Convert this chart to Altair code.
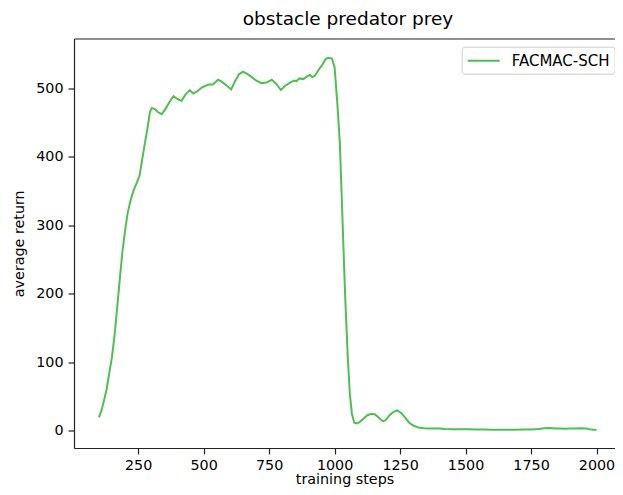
import altair as alt
import pandas as pd

steps = [100, 110, 120, 130, 140, 150, 160, 170, 180, 190, 200, 210, 220, 232, 245, 255, 265, 275, 285, 295,
         302, 315, 325, 340, 355, 370, 385, 400, 415, 430, 447, 460, 475, 490, 505, 520, 535, 555, 570, 590,
         605, 620, 635, 650, 665, 680, 700, 720, 740, 760, 775, 795, 810, 827, 845, 855, 865, 880, 895, 905,
         915, 925, 940, 955, 965, 975, 990, 1000, 1010, 1020, 1030, 1040, 1050, 1058, 1066, 1075, 1085, 1095, 1110, 1125,
         1140, 1155, 1170, 1185, 1195, 1210, 1225, 1240, 1255, 1270, 1285, 1300, 1320, 1340, 1360, 1380, 1400, 1420, 1450, 1480,
         1510, 1540, 1570, 1600, 1630, 1660, 1690, 1720, 1750, 1780, 1800, 1820, 1840, 1860, 1880, 1900, 1920, 1940, 1960, 1980,
         2000]
returns = [20, 30, 45, 62, 85, 108, 140, 180, 222, 262, 292, 318, 335, 350, 362, 372, 395, 418, 440, 465,
           471, 469, 465, 462, 470, 480, 488, 484, 481, 490, 497, 492, 495, 500, 503, 505, 505, 512, 509, 503,
           498, 510, 520, 524, 521, 517, 511, 507, 508, 512, 507, 497, 503, 507, 511, 510, 514, 513, 517, 519,
           516, 518, 527, 535, 542, 544, 543, 530, 480, 420, 310, 200, 110, 55, 25, 12, 11, 13, 18, 23,
           25, 24, 19, 14, 16, 23, 28, 30, 26, 19, 12, 8, 5, 4, 3.5, 3.5, 3.8, 3, 2.5, 2.6,
           2.7, 2.3, 2, 1.8, 1.8, 1.9, 1.8, 2, 2.2, 2.8, 4, 4.5, 3.8, 3.5, 3.2, 3.8, 3.5, 4, 3.5, 2,
           1.5]
series_name = "FACMAC-SCH"
x_ticks = [250, 500, 750, 1000, 1250, 1500, 1750, 2000]
y_ticks = [0, 100, 200, 300, 400, 500]

df = pd.DataFrame({"step": steps, "ret": returns, "series": [series_name] * len(steps)})

FONT = "DejaVu Sans"
xscale = alt.Scale(domain=[5, 2070.6], nice=False, zero=False)
yscale = alt.Scale(domain=[-24.8, 572.2], nice=False, zero=False)

line = alt.Chart(df).mark_line(strokeWidth=2, clip=True).encode(
    x=alt.X("step:Q", scale=xscale,
            axis=alt.Axis(values=x_ticks, format="d", title="training steps", orient="bottom",
                          grid=False, tickSize=6, labelPadding=4,
                          titleY=35.5, titleBaseline="alphabetic")),
    y=alt.Y("ret:Q", scale=yscale,
            axis=alt.Axis(values=y_ticks, format="d", title="average return", grid=False,
                          tickSize=6, labelPadding=5, titlePadding=9)),
    color=alt.Color("series:N", scale=alt.Scale(range=["#4fbf4f"]),
                    legend=alt.Legend(title=None, orient="none", legendX=387.7, legendY=8.2,
                                      symbolType="M-1,0H3", symbolSize=256, symbolStrokeWidth=2,
                                      labelOffset=27, padding=5, cornerRadius=3,
                                      strokeColor="#cccccc", fillColor="white",
                                      labelFontSize=15, labelFont=FONT, labelColor="black")),
)

top = alt.Chart(df).mark_line(opacity=0).encode(
    x=alt.X("step:Q", scale=xscale,
            axis=alt.Axis(orient="top", labels=False, ticks=False, title=None, grid=False)),
    y=alt.Y("ret:Q", scale=yscale),
)

chart = alt.layer(line, top).resolve_axis(x="independent").properties(
    width=541, height=409.5,
    autosize=alt.AutoSizeParams(type="none"),
    padding={"left": 66, "top": 30.5, "right": 0, "bottom": 39},
    title=alt.TitleParams("obstacle predator prey", fontSize=18.5, font=FONT, fontWeight="normal",
                          color="black", anchor="middle", baseline="alphabetic", offset=12,
                          dx=3.5, dy=17),
).configure_view(stroke=None).configure_axis(
    domainColor="#222222", tickColor="#222222", labelColor="black", titleColor="black",
    labelFont=FONT, titleFont=FONT, labelFontSize=14.3, titleFontSize=14.3, titleFontWeight="normal",
    domainWidth=1.2, tickWidth=1.2,
)

chart.save("out.html", embed_options={"renderer": "svg", "actions": False})
